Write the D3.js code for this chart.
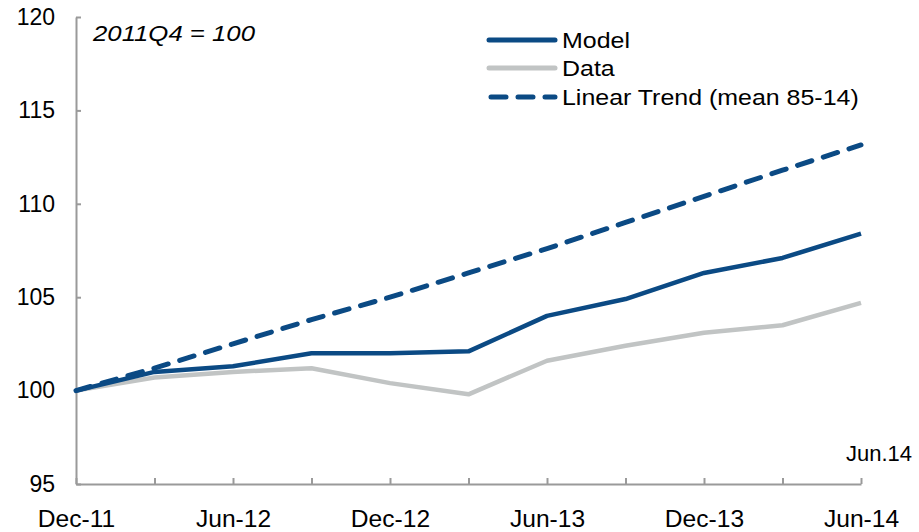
<!DOCTYPE html>
<html>
<head>
<meta charset="utf-8">
<script src="https://cdn.jsdelivr.net/npm/d3@7"></script>
<style>
  body { margin: 0; background: #fff; }
  svg { font-family: "Liberation Sans", Arial, sans-serif; }
  .axis path, .axis line { stroke: #9a9a9a; stroke-width: 2px; }
  .axis text { fill: #000; font-size: 23px; }
</style>
</head>
<body>
<div id="vis"></div>
<script>
var quarters = ["Dec-11", "Mar-12", "Jun-12", "Sep-12", "Dec-12", "Mar-13",
                "Jun-13", "Sep-13", "Dec-13", "Mar-14", "Jun-14"];
var model = [100, 101.0, 101.3, 102.0, 102.0, 102.1, 104.0, 104.9, 106.3, 107.1, 108.4];
var dataSeries = [100, 100.7, 101.0, 101.2, 100.4, 99.8, 101.6, 102.4, 103.1, 103.5, 104.7];
var trend = [100, 101.2, 102.5, 103.8, 105.0, 106.3, 107.6, 109.0, 110.4, 111.8, 113.15];
var yTicks = [95, 100, 105, 110, 115, 120];

var width = 919, height = 532;

var svg = d3.select("#vis").append("svg")
    .attr("width", width)
    .attr("height", height);

var x = d3.scalePoint()
    .domain(quarters)
    .range([76, 861]);
var y = d3.scaleLinear()
    .domain([95, 120])
    .range([484, 17]);

var xAxis = d3.axisBottom(x)
    .tickSizeInner(-6)
    .tickSizeOuter(0)
    .tickPadding(27)
    .tickFormat(function(d, i) { return i % 2 == 0 ? d : ""; });
var yAxis = d3.axisLeft(y)
    .tickValues(yTicks)
    .tickSizeInner(-5)
    .tickSizeOuter(0)
    .tickPadding(21);

svg.append("g")
    .attr("class", "axis y-axis")
    .attr("transform", "translate(76,0)")
    .call(yAxis);

svg.append("g")
    .attr("class", "axis x-axis")
    .attr("transform", "translate(0,484)")
    .call(xAxis)
  .selectAll("text")
    .attr("transform", "scale(1.07,1)");

var line = d3.line()
    .x(function(d, i) { return x(quarters[i]); })
    .y(function(d) { return y(d); });

// data first so model sits on top
svg.append("path")
    .datum(dataSeries)
    .attr("fill", "none")
    .attr("stroke", "#c1c4c4")
    .attr("stroke-width", 4.5)
    .attr("stroke-linejoin", "round")
    .attr("d", line);

svg.append("path")
    .datum(trend)
    .attr("fill", "none")
    .attr("stroke", "#0b4a84")
    .attr("stroke-width", 5)
    .attr("stroke-linecap", "round")
    .attr("stroke-dasharray", "15,12")
    .attr("d", line);

svg.append("path")
    .datum(model)
    .attr("fill", "none")
    .attr("stroke", "#0b4a84")
    .attr("stroke-width", 4.5)
    .attr("stroke-linejoin", "round")
    .attr("d", line);

// base note (source text is a bit wider than Arial, so stretch it)
svg.append("text")
    .attr("transform", "translate(93,41) scale(1.12,1)")
    .attr("font-size", "23px")
    .attr("font-style", "italic")
    .text("2011Q4 = 100");

svg.append("text")
    .attr("x", 912)
    .attr("y", 461)
    .attr("text-anchor", "end")
    .attr("font-size", "22px")
    .text("Jun.14");

// legend
var legendItems = [
  { name: "Model", color: "#0b4a84", dash: null, y: 40 },
  { name: "Data", color: "#c1c4c4", dash: null, y: 68 },
  { name: "Linear Trend (mean 85-14)", color: "#0b4a84", dash: "15,12", y: 97 }
];

var lg = svg.append("g").attr("class", "legend");
var item = lg.selectAll("g")
    .data(legendItems)
    .enter().append("g")
    .attr("transform", function(d) { return "translate(0," + d.y + ")"; });

item.append("line")
    .attr("x1", function(d) { return d.dash ? 491 : 489; })
    .attr("x2", 555)
    .attr("stroke", function(d) { return d.color; })
    .attr("stroke-width", 5)
    .attr("stroke-linecap", "round")
    .attr("stroke-dasharray", function(d) { return d.dash; });

item.append("text")
    .attr("transform", "translate(562,0) scale(1.085,1)")
    .attr("dy", "0.35em")
    .attr("font-size", "23px")
    .text(function(d) { return d.name; });
</script>
</body>
</html>
